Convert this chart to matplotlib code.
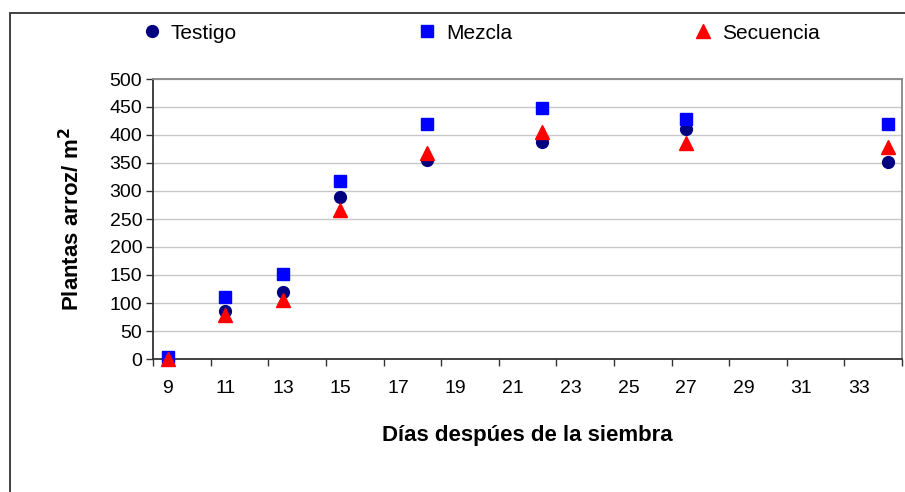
import matplotlib
matplotlib.use('Agg')
import matplotlib.pyplot as plt
from matplotlib.patches import Rectangle
import numpy as np

plt.rcParams['font.family'] = ['Liberation Sans', 'DejaVu Sans']

# datos
dias = [9, 11, 13, 15, 18, 22, 27, 34]
testigo = [0, 86, 120, 290, 356, 387, 411, 352]
mezcla = [3, 110, 151, 318, 419, 449, 428, 420]
secuencia = [0, 79, 106, 266, 367, 406, 385, 378]

etiquetas_x = list(range(9, 34, 2))
yticks = list(range(0, 501, 50))

fig = plt.figure(figsize=(9.05, 4.92), dpi=100)
ax = fig.add_axes([153.3 / 905, 1 - 359 / 492, (902 - 153.3) / 905, (359 - 79) / 492])

# marco exterior del grafico
fig.patches.append(Rectangle((10 / 905, -0.2), 1.2, 1.2 - 13 / 492,
                             transform=fig.transFigure, fill=False,
                             edgecolor='#333333', linewidth=1.3))

ax.plot(dias, testigo, 'o', color='#000080', ms=8.5, label='Testigo', clip_on=False, zorder=3)
ax.plot(dias, mezcla, 's', color='#0000ff', ms=8.5, label='Mezcla', clip_on=False, zorder=3)
ax.plot(dias, secuencia, '^', color='#ff0000', ms=10, label='Secuencia', clip_on=False, zorder=4)

ax.set_xlim(8.5, 34.5)
ax.set_ylim(0, 500)
ax.set_yticks(yticks)
ax.set_xticks(np.arange(8.5, 34.6, 2))
ax.set_xticklabels([])
ax.set_xticks(etiquetas_x, minor=True)
ax.set_xticklabels([str(v) for v in etiquetas_x], minor=True)
ax.tick_params(axis='x', which='major', direction='out', length=5, width=1, color='#333333')
ax.tick_params(axis='x', which='minor', length=0, pad=15, labelsize=14)
ax.tick_params(axis='y', direction='out', length=5, width=1, color='#333333', labelsize=14, pad=3)

ax.yaxis.grid(True, color='#c8c8c8', linewidth=1)
ax.set_axisbelow(True)
for s in ['top', 'right']:
    ax.spines[s].set_color('#888888')
    ax.spines[s].set_linewidth(1.3)
for s in ['left', 'bottom']:
    ax.spines[s].set_color('#333333')
    ax.spines[s].set_linewidth(1.3)

ax.set_xlabel('Días despúes de la siembra', fontsize=16, fontweight='bold', labelpad=20)
ax.set_ylabel('Plantas arroz/ m$^\\mathbf{2}$', fontsize=16, fontweight='bold', labelpad=18)

fig.legend(loc='center left', bbox_to_anchor=(141.5 / 905, 1 - 33 / 492), ncol=3,
           frameon=False, fontsize=15, handlelength=1, handletextpad=0.4,
           columnspacing=8.65, borderpad=0, borderaxespad=0)

fig.savefig('out.png', dpi=100)
